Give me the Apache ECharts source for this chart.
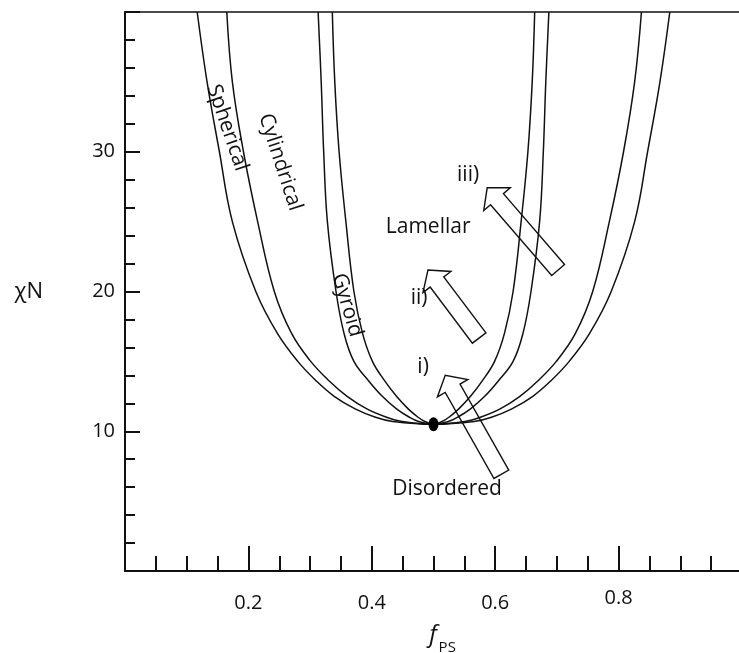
<!DOCTYPE html>
<html><head><meta charset="utf-8">
<script src="https://cdn.jsdelivr.net/npm/echarts@6/dist/echarts.min.js"></script>
<style>html,body{margin:0;padding:0;background:#fff}#c{width:739px;height:653px}</style>
</head><body><div id="c"></div>
<script>
// Tick labels
const xTickLabels = ['0.2', '0.4', '0.6', '0.8'];
const yTickLabels = ['10', '20', '30'];

// Phase boundaries [f_PS, chiN]
const curveODT = [[0.117,40],[0.133,35],[0.153,30],[0.174,25],[0.212,20],[0.247,17],[0.280,15],[0.310,13.6],[0.339,12.5],[0.373,11.6],[0.406,11.0],[0.434,10.7],[0.500,10.5],
  [0.566,10.7],[0.594,11.0],[0.627,11.6],[0.661,12.5],[0.690,13.6],[0.720,15],[0.753,17],[0.788,20],[0.826,25],[0.847,30],[0.867,35],[0.883,40]];
const curveSphCyl = [[0.165,40],[0.174,35],[0.192,30],[0.215,25],[0.242,20],[0.270,17],[0.301,15],[0.331,13.6],[0.360,12.5],[0.392,11.6],[0.424,11.0],[0.449,10.7],[0.500,10.5],
  [0.551,10.7],[0.576,11.0],[0.608,11.6],[0.640,12.5],[0.669,13.6],[0.699,15],[0.730,17],[0.758,20],[0.785,25],[0.808,30],[0.826,35],[0.837,40]];
const curveCylGyr = [[0.313,40],[0.318,35],[0.322,30],[0.328,25],[0.342,20],[0.355,17],[0.371,15],[0.395,13.6],[0.417,12.5],[0.440,11.6],[0.461,11.0],[0.476,10.7],[0.500,10.5],
  [0.524,10.7],[0.539,11.0],[0.560,11.6],[0.583,12.5],[0.605,13.6],[0.629,15],[0.645,17],[0.658,20],[0.672,25],[0.678,30],[0.682,35],[0.687,40]];
const curveGyrLam = [[0.336,40],[0.340,35],[0.347,30],[0.358,25],[0.371,20],[0.385,17],[0.401,15],[0.421,13.6],[0.440,12.5],[0.459,11.6],[0.475,11.0],[0.486,10.7],[0.500,10.5],
  [0.514,10.7],[0.525,11.0],[0.541,11.6],[0.560,12.5],[0.579,13.6],[0.599,15],[0.615,17],[0.629,20],[0.642,25],[0.653,30],[0.660,35],[0.664,40]];
const criticalPoint = [[0.5, 10.5]];

// Arrows: tail and tip in data coordinates
const arrowTail = [[0.610, 6.92], [0.574, 16.67], [0.702, 21.54]];
const arrowTip  = [[0.519, 14.01], [0.491, 21.54], [0.587, 27.42]];

// Region / arrow text labels
const textNames = ['Spherical', 'Cylindrical', 'Gyroid', 'Lamellar', 'Disordered', 'i)', 'ii)', 'iii)'];
const textPos = [[0.1658, 31.72], [0.2517, 29.25], [0.3602, 19.03], [0.4913, 24.62], [0.5221, 5.84], [0.4831, 14.59], [0.4767, 19.53], [0.5561, 28.35]];
const textRot = [-71, -72, -74, 0, 0, 0, 0, 0];

const FONT = 'Open Sans';
const INK = '#111';
const chart = echarts.init(document.getElementById('c'), null, {renderer: 'canvas'});

function curveSeries(data) {
  return {type: 'line', data: data, smooth: 0.4, symbol: 'none', xAxisIndex: 0, yAxisIndex: 0,
    lineStyle: {color: INK, width: 1.5}, z: 3, silent: true};
}

chart.setOption({
  animation: false,
  backgroundColor: '#fff',
  grid: {left: 125, top: 12, bottom: 82, right: -3, containLabel: false, outerBoundsMode: 'none'},
  xAxis: [{
    type: 'value', min: 0, max: 1, interval: 0.2,
    name: '{f|f}{s|PS}', nameLocation: 'middle', nameGap: 52,
    nameTextStyle: {padding: [0, 0, 0, 18], rich: {
      f: {fontFamily: FONT, fontStyle: 'italic', fontSize: 24, color: INK, verticalAlign: 'bottom'},
      s: {fontFamily: FONT, fontSize: 15, color: INK, verticalAlign: 'bottom', padding: [0, 0, -8, 2]}
    }},
    axisLine: {show: true, onZero: false, lineStyle: {color: INK, width: 2}},
    axisTick: {show: true, inside: true, length: 25, lineStyle: {color: INK, width: 2}},
    minorTick: {show: true, splitNumber: 4, length: 15, lineStyle: {color: INK, width: 2}},
    splitLine: {show: false}, minorSplitLine: {show: false},
    axisLabel: {show: true, margin: 22, fontFamily: FONT, fontSize: 20, color: INK,
      rich: {hi: {fontFamily: FONT, fontSize: 20, color: INK, lineHeight: 10}},
      formatter: function (v) {
        const s = v.toFixed(1);
        if (xTickLabels.indexOf(s) < 0) return '';
        return s === xTickLabels[xTickLabels.length - 1] ? '{hi|' + s + '}' : s;
      }}
  }, {
    type: 'value', min: 0, max: 1, position: 'top',
    axisLine: {show: true, onZero: false, lineStyle: {color: INK, width: 1.5}},
    axisTick: {show: false}, axisLabel: {show: false}, splitLine: {show: false}
  }],
  yAxis: [{
    type: 'value', min: 0, max: 40, interval: 10,
    name: 'χN', nameLocation: 'middle', nameRotate: 0, nameGap: 82,
    nameTextStyle: {fontFamily: FONT, fontSize: 22, color: INK},
    axisLine: {show: true, onZero: false, lineStyle: {color: INK, width: 2}},
    axisTick: {show: true, inside: true, length: 15, lineStyle: {color: INK, width: 2}},
    minorTick: {show: true, splitNumber: 5, length: 10, lineStyle: {color: INK, width: 2}},
    splitLine: {show: false}, minorSplitLine: {show: false},
    axisLabel: {show: true, margin: 10, fontFamily: FONT, fontSize: 20, color: INK,
      formatter: function (v) { const s = String(Math.round(v)); return yTickLabels.indexOf(s) >= 0 ? s : ''; }}
  }],
  series: [
    curveSeries(curveODT), curveSeries(curveSphCyl), curveSeries(curveCylGyr), curveSeries(curveGyrLam),
    {type: 'scatter', data: criticalPoint, symbol: 'circle', symbolSize: [10, 14],
      itemStyle: {color: '#000', opacity: 1}, z: 5, silent: true},
    {type: 'custom', z: 4, silent: true,
      data: arrowTail.map(function (t, i) { return [t[0], t[1], arrowTip[i][0], arrowTip[i][1]]; }),
      encode: {x: [0, 2], y: [1, 3]},
      renderItem: function (params, api) {
        const t = api.coord([api.value(0), api.value(1)]);
        const h = api.coord([api.value(2), api.value(3)]);
        const dx = h[0] - t[0], dy = h[1] - t[1], L = Math.hypot(dx, dy);
        const ux = dx / L, uy = dy / L, nx = -uy, ny = ux;
        const sw = 8.5, hw = 17.5, hl = 15;
        const nk = [h[0] - ux * hl, h[1] - uy * hl];
        const pts = [
          [t[0] + nx * sw, t[1] + ny * sw], [nk[0] + nx * sw, nk[1] + ny * sw], [nk[0] + nx * hw, nk[1] + ny * hw],
          [h[0], h[1]],
          [nk[0] - nx * hw, nk[1] - ny * hw], [nk[0] - nx * sw, nk[1] - ny * sw], [t[0] - nx * sw, t[1] - ny * sw]
        ];
        return {type: 'polygon', shape: {points: pts}, style: {fill: 'none', stroke: INK, lineWidth: 1.4}};
      }
    },
    {type: 'scatter', z: 6, silent: true, symbolSize: 1, itemStyle: {color: 'rgba(0,0,0,0)', opacity: 1},
      data: textNames.map(function (n, i) {
        return {name: n, value: textPos[i], label: {rotate: textRot[i]}};
      }),
      label: {show: true, position: 'inside', formatter: '{b}', fontFamily: FONT, fontSize: 21,
        color: INK, opacity: 1, textBorderWidth: 0}
    }
  ]
});
</script></body></html>
